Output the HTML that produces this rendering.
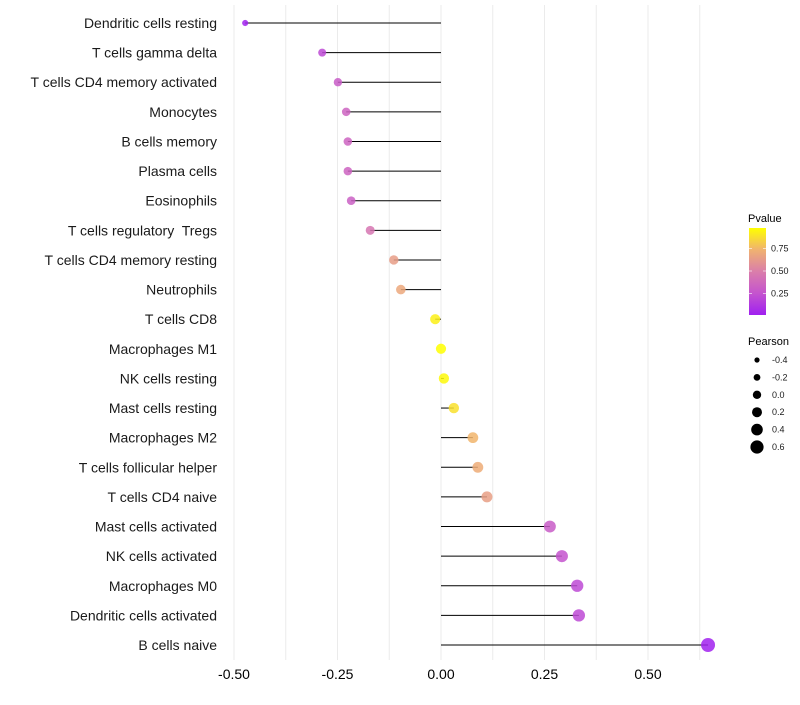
<!DOCTYPE html>
<html><head><meta charset="utf-8"><style>
body{margin:0;background:#fff;font-family:"Liberation Sans",sans-serif}
svg text{font-family:"Liberation Sans",sans-serif;white-space:pre}
</style></head><body>
<svg id="chart" width="800" height="700"></svg>
<script>
const categories=["Dendritic cells resting","T cells gamma delta","T cells CD4 memory activated","Monocytes","B cells memory","Plasma cells","Eosinophils","T cells regulatory  Tregs","T cells CD4 memory resting","Neutrophils","T cells CD8","Macrophages M1","NK cells resting","Mast cells resting","Macrophages M2","T cells follicular helper","T cells CD4 naive","Mast cells activated","NK cells activated","Macrophages M0","Dendritic cells activated","B cells naive"];
const pearson=[-0.473,-0.287,-0.249,-0.229,-0.225,-0.225,-0.217,-0.171,-0.114,-0.097,-0.014,0.0,0.007,0.031,0.077,0.089,0.111,0.263,0.292,0.329,0.333,0.645];
const pvalue=[0.01,0.2,0.3,0.34,0.34,0.34,0.32,0.45,0.65,0.7,0.95,1.0,0.98,0.9,0.76,0.72,0.66,0.3,0.25,0.2,0.2,0.01];
const xTicks=[-0.5,-0.25,0,0.25,0.5];
const xTickLabels=["-0.50","-0.25","0.00","0.25","0.50"];
const pTicks=[0.25,0.5,0.75];
const pTickLabels=["0.25","0.50","0.75"];
const sizeBreaks=[-0.4,-0.2,0.0,0.2,0.4,0.6];
const sizeLabels=["-0.4","-0.2","0.0","0.2","0.4","0.6"];

const NS="http://www.w3.org/2000/svg";
const svg=document.getElementById('chart');
function mk(t,a,p){const e=document.createElementNS(NS,t);for(const k in a)e.setAttribute(k,a[k]);(p||svg).appendChild(e);return e;}
const x=v=>441+v*414;
const y=i=>23+i*(622/21);
const r=v=>Math.sqrt(Math.max(2,16+35.3*(v+0.29)));
const stops=[[0,[160,32,240]],[0.25,[196,84,206]],[0.5,[218,126,170]],[0.75,[240,178,112]],[1,[255,255,0]]];
function col(p){for(let i=1;i<stops.length;i++){if(p<=stops[i][0]){const a=stops[i-1],b=stops[i],t=(p-a[0])/(b[0]-a[0]);const c=a[1].map((v,k)=>Math.round(v+(b[1][k]-v)*t));return `rgb(${c})`;}}return 'rgb(255,255,0)';}

for(let v=-0.5;v<=0.626;v+=0.125){const g=mk('line',{x1:x(v),x2:x(v),y1:5,y2:660,stroke:'#ebebeb','stroke-width':1});
}
xTicks.forEach((v,i)=>{const t=mk('text',{x:x(v),y:679,'font-size':14,'text-anchor':'middle',fill:'#000'});t.textContent=xTickLabels[i];
});
categories.forEach((c,i)=>{
 const t=mk('text',{x:217,y:y(i)+5,'font-size':14,'text-anchor':'end',fill:'#1a1a1a'});t.textContent=c;
 
 const l=mk('line',{x1:x(0),x2:x(pearson[i]),y1:y(i),y2:y(i),stroke:'#000','stroke-width':1});
 
 const d=mk('circle',{cx:x(pearson[i]),cy:y(i),r:r(pearson[i]),fill:col(pvalue[i]),'fill-opacity':0.85});
 
});
const lt=mk('text',{x:748,y:222,'font-size':11,fill:'#000'});lt.textContent='Pvalue';

const defs=mk('defs',{});const lg=mk('linearGradient',{id:'pg',x1:0,y1:1,x2:0,y2:0},defs);
stops.forEach(s=>mk('stop',{offset:s[0],'stop-color':`rgb(${s[1]})`},lg));
const py=p=>316-p*90;
const bar=mk('rect',{x:749,y:228,width:17,height:87,fill:'url(#pg)'});

pTicks.forEach((p,i)=>{mk('line',{x1:749,x2:752,y1:py(p),y2:py(p),stroke:'#fff','stroke-opacity':0.6});mk('line',{x1:763,x2:766,y1:py(p),y2:py(p),stroke:'#fff','stroke-opacity':0.6});
 const t=mk('text',{x:771,y:py(p)+3,'font-size':9,fill:'#1a1a1a'});t.textContent=pTickLabels[i];
 });
const st=mk('text',{x:748,y:345,'font-size':11,fill:'#000'});st.textContent='Pearson';

sizeBreaks.forEach((v,i)=>{const yy=360+i*17.4;
 const c=mk('circle',{cx:757,cy:yy,r:2.6+i*0.8,fill:'#000'});
 
 const t=mk('text',{x:772,y:yy+3,'font-size':9,fill:'#1a1a1a'});t.textContent=sizeLabels[i];
 });
</script>
</body></html>
